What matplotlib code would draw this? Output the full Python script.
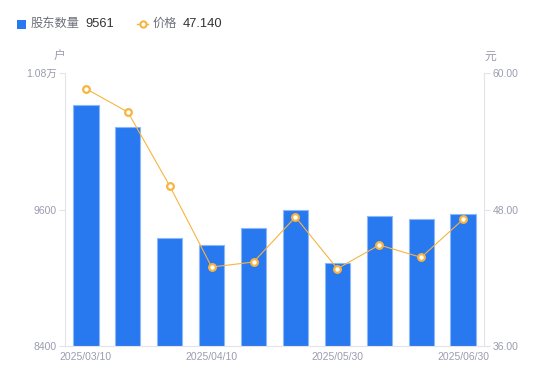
import matplotlib
matplotlib.use('Agg')
import matplotlib.pyplot as plt
from matplotlib.ticker import FixedLocator
from matplotlib.lines import Line2D

plt.rcParams['font.family'] = ['Liberation Sans', 'Noto Sans CJK SC', 'DejaVu Sans']

# data
dates = ['2025/03/10', '2025/03/20', '2025/03/31', '2025/04/10', '2025/04/20',
         '2025/04/30', '2025/05/30', '2025/06/10', '2025/06/20', '2025/06/30']
holders = [10518, 10325, 9348, 9289, 9436, 9594, 9133, 9544, 9515, 9561]
price = [58.64, 56.59, 50.08, 42.95, 43.39, 47.35, 42.80, 44.89, 43.80, 47.14]
shown_ticks = [0, 3, 6, 9]

bar_color = '#2878F0'
line_color = '#F7B440'
grey = '#9A9CB0'
axis_color = '#E3E3E8'

W, H = 550, 381
fig = plt.figure(figsize=(W / 100, H / 100), dpi=100)
ax = fig.add_axes([65 / W, 1 - 346 / H, (484 - 65) / W, (346 - 73.3) / H])
ax2 = ax.twinx()

x = list(range(len(dates)))
ax.bar(x, holders, width=0.6, color=bar_color, edgecolor='#8DB8F7', linewidth=0.8, zorder=2)
ax.set_ylim(8400, 10800)
ax.set_xlim(-0.5, len(dates) - 0.5)

ax2.plot(x, price, color=line_color, linewidth=0.8, marker='o', markersize=4.8,
         markerfacecolor='white', markeredgecolor=line_color, markeredgewidth=1.6, zorder=3)
ax2.set_ylim(36, 60)

ax.yaxis.set_major_locator(FixedLocator([8400, 9600, 10800]))
ax.set_yticklabels(['8400', '9600', '1.08万'])
ax2.yaxis.set_major_locator(FixedLocator([36, 48, 60]))
ax2.set_yticklabels(['36.00', '48.00', '60.00'])
ax.set_xticks(shown_ticks)
ax.set_xticklabels([dates[i] for i in shown_ticks])

for a in (ax, ax2):
    for s in a.spines.values():
        s.set_visible(False)
    a.tick_params(colors=grey, labelsize=7.5, length=4, width=0.8, color=axis_color, pad=2)
ax.spines['left'].set_visible(True)
ax.spines['left'].set_color(axis_color)
ax.spines['bottom'].set_visible(True)
ax.spines['bottom'].set_color(axis_color)
ax2.spines['right'].set_visible(True)
ax2.spines['right'].set_color(axis_color)
ax.tick_params(axis='x', length=0, pad=4)
ax.patch.set_alpha(0)

fig.text(59 / W, 1 - 57 / H, '户', color=grey, fontsize=8.5, ha='center', va='center')
fig.text(490 / W, 1 - 57 / H, '元', color=grey, fontsize=8.5, ha='center', va='center')

# legend row
leg_y = 1 - 24 / H
fig.patches.append(plt.Rectangle((17 / W, 1 - 28.5 / H), 8.5 / W, 8.5 / H, transform=fig.transFigure,
                                 facecolor=bar_color, edgecolor='none'))
fig.text(30.5 / W, leg_y, '股东数量', color='#6E7079', fontsize=8.8, va='center')
fig.text(85 / W, leg_y, '9561', color='#333333', fontsize=9.3, va='center')
fig.lines.append(Line2D([137 / W, 148 / W], [leg_y, leg_y], transform=fig.transFigure, color=line_color,
                        linewidth=1))
fig.lines.append(Line2D([142.5 / W], [leg_y], transform=fig.transFigure, color=line_color, marker='o',
                        markersize=4.5, markerfacecolor='white', markeredgewidth=1.5))
fig.text(152.5 / W, leg_y, '价格', color='#6E7079', fontsize=8.8, va='center')
fig.text(183 / W, leg_y, '47.140', color='#333333', fontsize=9.3, va='center')

fig.savefig('out.png', dpi=100)
